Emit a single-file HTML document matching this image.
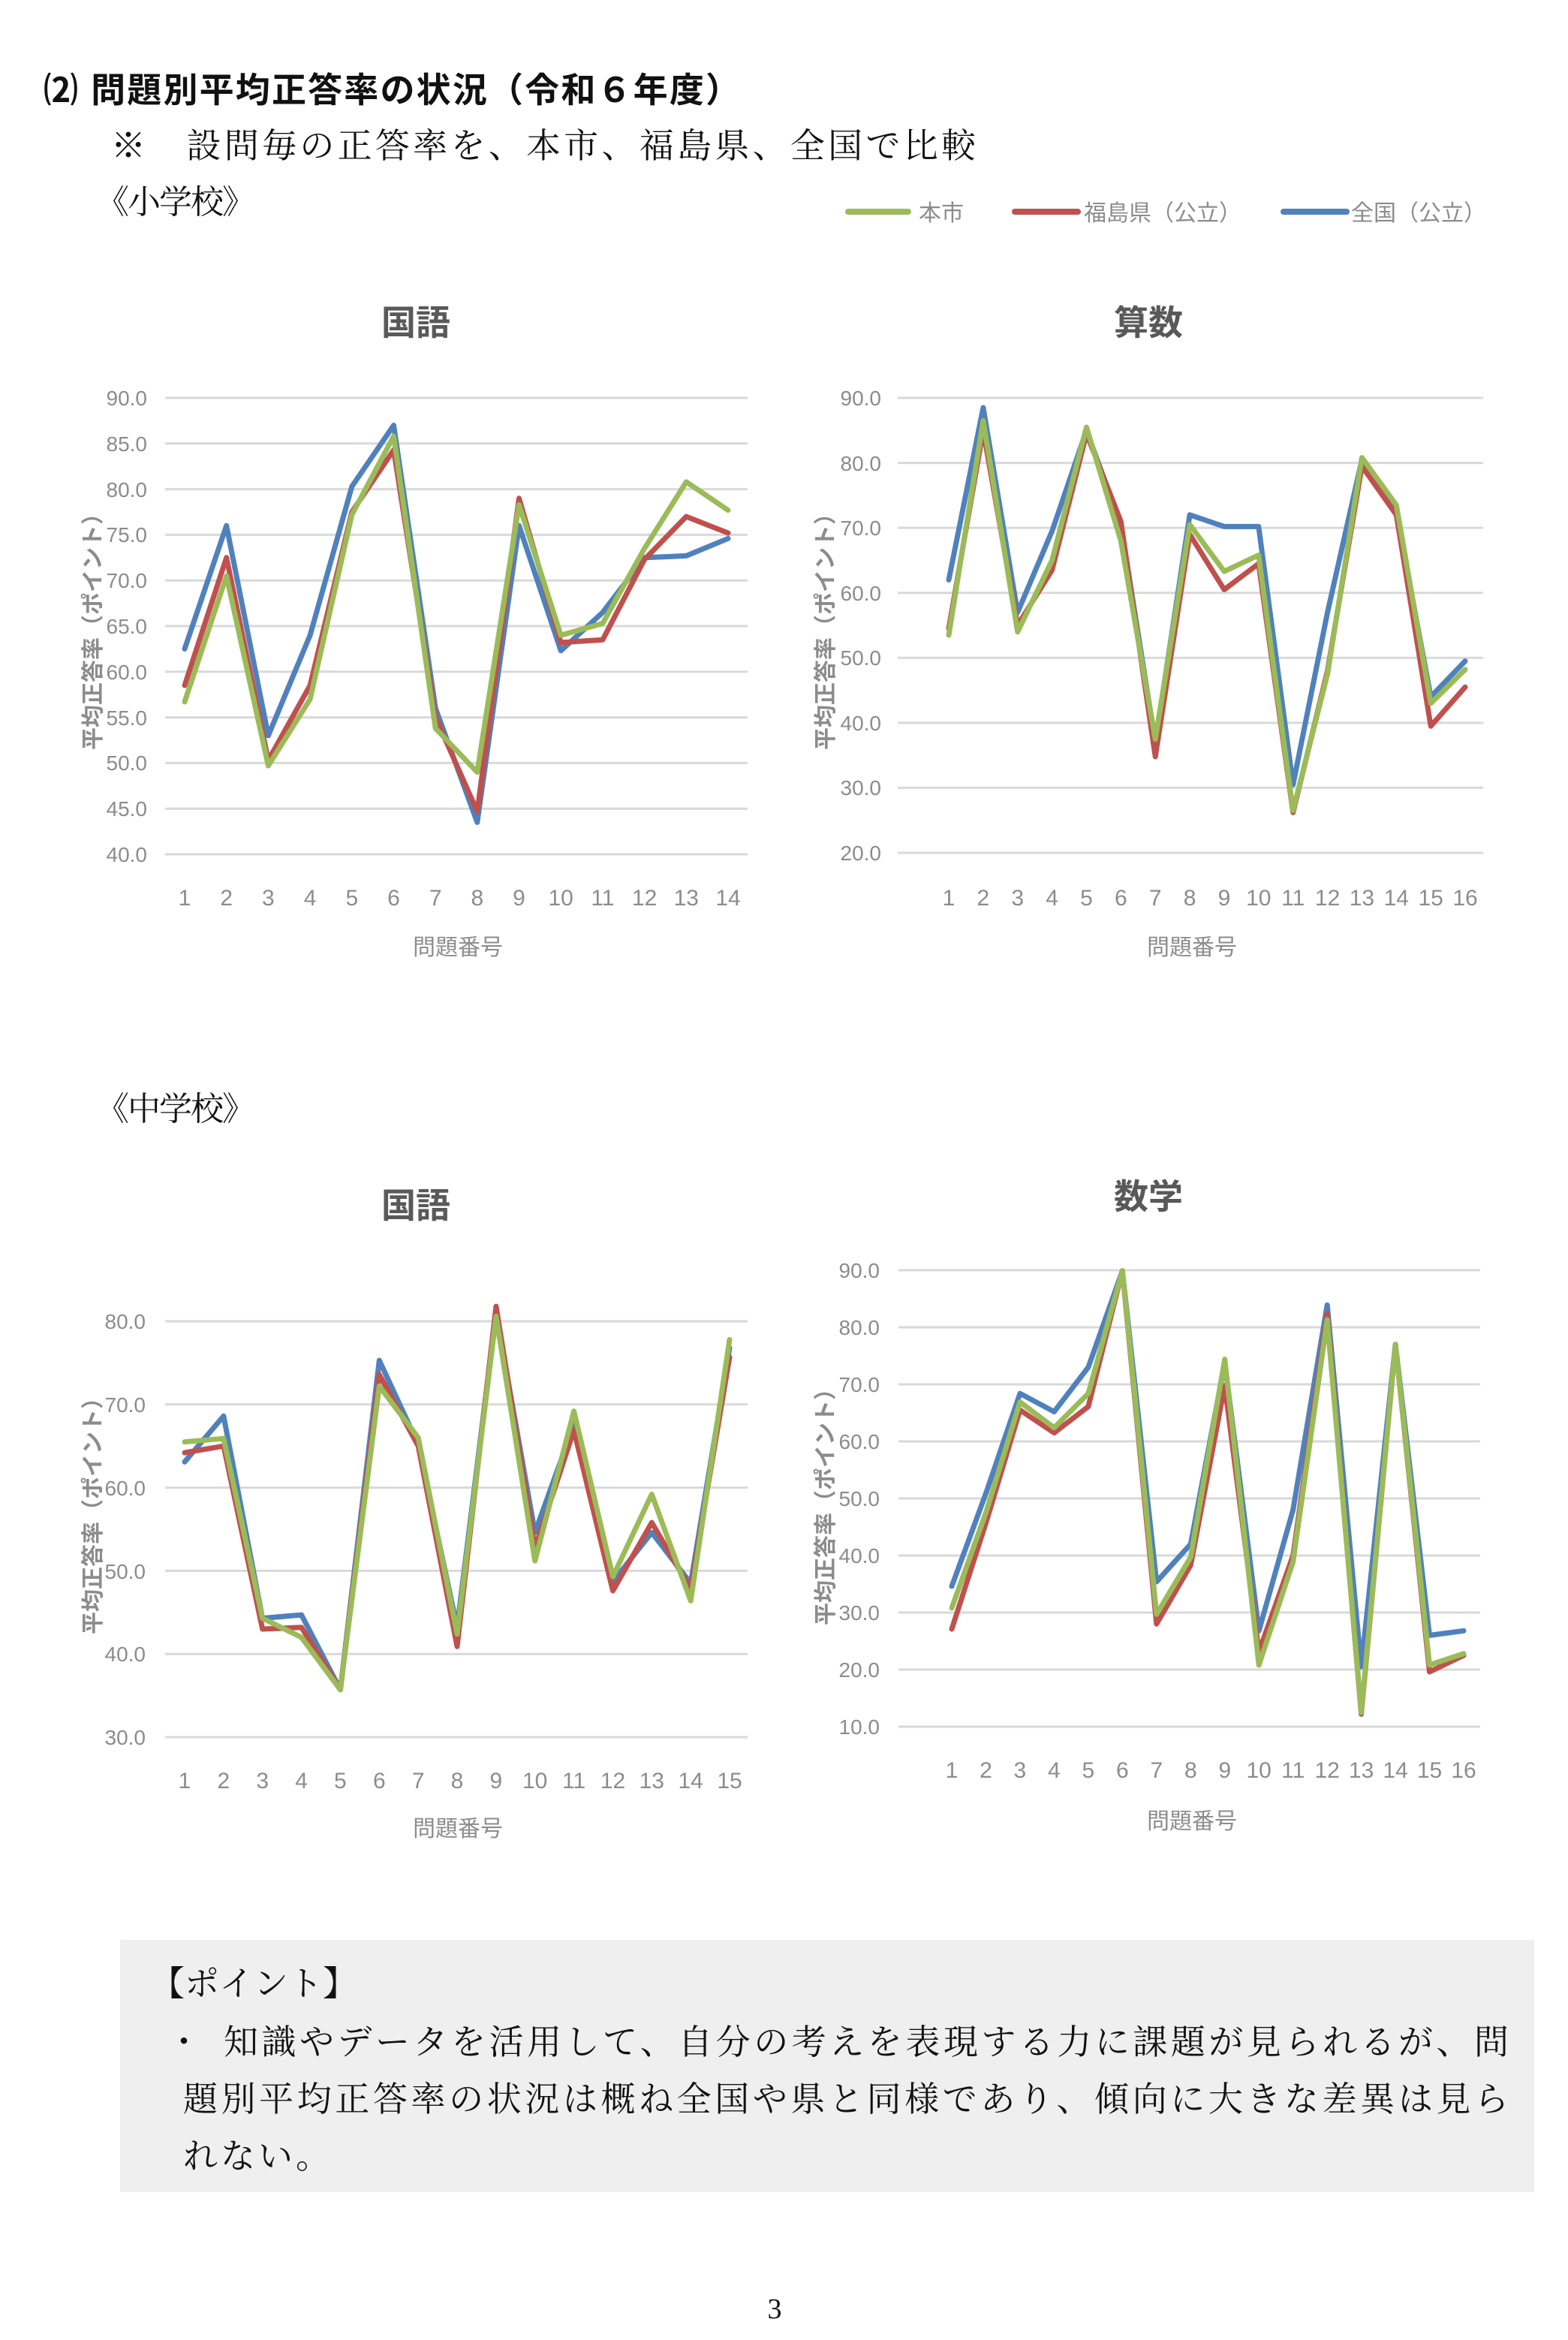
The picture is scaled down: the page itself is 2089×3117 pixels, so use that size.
<!DOCTYPE html>
<html><head><meta charset="utf-8"><style>
html,body{margin:0;padding:0;background:#fff;}
svg{display:block;}
.g{font-family:"Liberation Sans Narrow","Liberation Sans","Noto Sans CJK JP",sans-serif;fill:#8c8c8c;}
.tk{font-size:28px;text-anchor:end;}
.xl{font-size:30px;text-anchor:middle;}
.ti{font-family:"Liberation Sans","Noto Sans CJK JP",sans-serif;font-size:46px;font-weight:bold;fill:#595959;text-anchor:middle;}
.at{font-family:"Liberation Sans","Noto Sans CJK JP",sans-serif;font-size:30px;fill:#8c8c8c;text-anchor:middle;}
.yt{font-family:"Liberation Sans","Noto Sans CJK JP",sans-serif;font-size:30px;font-weight:bold;fill:#8c8c8c;text-anchor:middle;}
.gr line{stroke:#d9d9d9;stroke-width:3;}
.s{fill:none;stroke-width:7;stroke-linejoin:round;stroke-linecap:round;}
.b{stroke:#4f81bd}.r{stroke:#c0504d}.gn{stroke:#9bbb59}
.mc{font-family:"Liberation Serif","Noto Serif CJK SC",serif;fill:#111;}
.gh{font-family:"Liberation Sans","Noto Sans CJK JP",sans-serif;fill:#111;}
</style></head><body>
<svg width="2089" height="3117" viewBox="0 0 2089 3117" xmlns="http://www.w3.org/2000/svg">
<rect width="2089" height="3117" fill="#fff"/>
<text class="gh" x="58" y="136" font-size="46" font-weight="bold" textLength="928" lengthAdjust="spacing">⑵  問題別平均正答率の状況（令和６年度）</text>
<text class="mc" x="148" y="210" font-size="46" textLength="1152" lengthAdjust="spacing">※　設問毎の正答率を、本市、福島県、全国で比較</text>
<text class="mc" x="128" y="284" font-size="44" textLength="212" lengthAdjust="spacing">《小学校》</text>
<!-- legend -->
<line x1="1130" y1="282" x2="1210" y2="282" stroke="#9bbb59" stroke-width="8" stroke-linecap="round"/>
<text class="at" x="1224" y="294" font-size="34" style="text-anchor:start">本市</text>
<line x1="1352" y1="282" x2="1436" y2="282" stroke="#c0504d" stroke-width="8" stroke-linecap="round"/>
<text class="at" x="1444" y="294" font-size="34" style="text-anchor:start">福島県（公立）</text>
<line x1="1710" y1="282" x2="1794" y2="282" stroke="#4f81bd" stroke-width="8" stroke-linecap="round"/>
<text class="at" x="1800" y="294" font-size="34" style="text-anchor:start">全国（公立）</text>

<!-- Chart 1 -->
<text class="ti" x="554" y="446">国語</text>
<g class="gr"><line x1="220" x2="996" y1="530" y2="530"/><line x1="220" x2="996" y1="590.8" y2="590.8"/><line x1="220" x2="996" y1="651.6" y2="651.6"/><line x1="220" x2="996" y1="712.4" y2="712.4"/><line x1="220" x2="996" y1="773.2" y2="773.2"/><line x1="220" x2="996" y1="834" y2="834"/><line x1="220" x2="996" y1="894.8" y2="894.8"/><line x1="220" x2="996" y1="955.6" y2="955.6"/><line x1="220" x2="996" y1="1016.4" y2="1016.4"/><line x1="220" x2="996" y1="1077.2" y2="1077.2"/><line x1="220" x2="996" y1="1138" y2="1138"/></g>
<g class="g tk"><text x="196" y="540">90.0</text><text x="196" y="601">85.0</text><text x="196" y="662">80.0</text><text x="196" y="722">75.0</text><text x="196" y="783">70.0</text><text x="196" y="844">65.0</text><text x="196" y="905">60.0</text><text x="196" y="966">55.0</text><text x="196" y="1026">50.0</text><text x="196" y="1087">45.0</text><text x="196" y="1148">40.0</text></g>
<g class="g xl"><text x="246" y="1206">1</text><text x="301.7" y="1206">2</text><text x="357.4" y="1206">3</text><text x="413.1" y="1206">4</text><text x="468.8" y="1206">5</text><text x="524.5" y="1206">6</text><text x="580.2" y="1206">7</text><text x="635.8" y="1206">8</text><text x="691.5" y="1206">9</text><text x="747.2" y="1206">10</text><text x="802.9" y="1206">11</text><text x="858.6" y="1206">12</text><text x="914.3" y="1206">13</text><text x="970" y="1206">14</text></g>
<text class="at" x="610" y="1272">問題番号</text>
<text class="yt" transform="translate(134,834) rotate(-90)">平均正答率（ポイント）</text>
<polyline class="s b" points="246,864.4 301.7,700.2 357.4,979.9 413.1,846.2 468.8,648 524.5,566.5 580.2,943.4 635.8,1095.4 691.5,700.2 747.2,866.8 802.9,815.8 858.6,742.8 914.3,740.4 970,717.3"/>
<polyline class="s r" points="246,913 301.7,742.8 357.4,1012.8 413.1,913 468.8,682 524.5,599.3 580.2,955.6 635.8,1080.8 691.5,663.8 747.2,855.9 802.9,852.2 858.6,745.2 914.3,688.1 970,710"/>
<polyline class="s gn" points="246,934.9 301.7,767.1 357.4,1020 413.1,931.3 468.8,685.6 524.5,581.1 580.2,970.2 635.8,1028.6 691.5,672.3 747.2,846.2 802.9,830.4 858.6,730.6 914.3,641.9 970,679.6"/>

<!-- Chart 2 -->
<text class="ti" x="1530" y="446">算数</text>
<g class="gr"><line x1="1196" x2="1976" y1="530" y2="530"/><line x1="1196" x2="1976" y1="616.6" y2="616.6"/><line x1="1196" x2="1976" y1="703.1" y2="703.1"/><line x1="1196" x2="1976" y1="789.7" y2="789.7"/><line x1="1196" x2="1976" y1="876.3" y2="876.3"/><line x1="1196" x2="1976" y1="962.9" y2="962.9"/><line x1="1196" x2="1976" y1="1049.4" y2="1049.4"/><line x1="1196" x2="1976" y1="1136" y2="1136"/></g>
<g class="g tk"><text x="1174" y="540">90.0</text><text x="1174" y="627">80.0</text><text x="1174" y="713">70.0</text><text x="1174" y="800">60.0</text><text x="1174" y="886">50.0</text><text x="1174" y="973">40.0</text><text x="1174" y="1059">30.0</text><text x="1174" y="1146">20.0</text></g>
<g class="g xl"><text x="1264" y="1206">1</text><text x="1309.9" y="1206">2</text><text x="1355.7" y="1206">3</text><text x="1401.6" y="1206">4</text><text x="1447.5" y="1206">5</text><text x="1493.3" y="1206">6</text><text x="1539.2" y="1206">7</text><text x="1585.1" y="1206">8</text><text x="1631" y="1206">9</text><text x="1676.8" y="1206">10</text><text x="1722.7" y="1206">11</text><text x="1768.6" y="1206">12</text><text x="1814.4" y="1206">13</text><text x="1860.3" y="1206">14</text><text x="1906.2" y="1206">15</text><text x="1952" y="1206">16</text></g>
<text class="at" x="1588" y="1272">問題番号</text>
<text class="yt" transform="translate(1110,834) rotate(-90)">平均正答率（ポイント）</text>
<polyline class="s b" points="1264,772.4 1309.9,543 1355.7,815.7 1401.6,707.5 1447.5,573.3 1493.3,698.8 1539.2,988.8 1585.1,685.8 1631,701.4 1676.8,701.4 1722.7,1045.1 1768.6,815.7 1814.4,612.2 1860.3,681.5 1906.2,928.2 1952,880.6"/>
<polyline class="s r" points="1264,837.3 1309.9,573.3 1355.7,833 1401.6,759.4 1447.5,577.6 1493.3,694.5 1539.2,1007.9 1585.1,711.8 1631,785.4 1676.8,750.8 1722.7,1082.3 1768.6,893.6 1814.4,620.9 1860.3,685.8 1906.2,967.2 1952,915.2"/>
<polyline class="s gn" points="1264,846 1309.9,560.3 1355.7,841.7 1401.6,746.4 1447.5,569 1493.3,720.5 1539.2,984.5 1585.1,698.8 1631,761.1 1676.8,739.5 1722.7,1079.7 1768.6,897.9 1814.4,609.6 1860.3,672.8 1906.2,936.9 1952,891.8"/>

<text class="mc" x="128" y="1492" font-size="44" textLength="212" lengthAdjust="spacing">《中学校》</text>

<!-- Chart 3 -->
<text class="ti" x="554" y="1622">国語</text>
<g class="gr"><line x1="220" x2="996" y1="1760" y2="1760"/><line x1="220" x2="996" y1="1870.8" y2="1870.8"/><line x1="220" x2="996" y1="1981.6" y2="1981.6"/><line x1="220" x2="996" y1="2092.4" y2="2092.4"/><line x1="220" x2="996" y1="2203.2" y2="2203.2"/><line x1="220" x2="996" y1="2314" y2="2314"/></g>
<g class="g tk"><text x="194" y="1770">80.0</text><text x="194" y="1881">70.0</text><text x="194" y="1992">60.0</text><text x="194" y="2103">50.0</text><text x="194" y="2213">40.0</text><text x="194" y="2324">30.0</text></g>
<g class="g xl"><text x="246" y="2382">1</text><text x="297.9" y="2382">2</text><text x="349.7" y="2382">3</text><text x="401.6" y="2382">4</text><text x="453.4" y="2382">5</text><text x="505.3" y="2382">6</text><text x="557.2" y="2382">7</text><text x="609" y="2382">8</text><text x="660.9" y="2382">9</text><text x="712.7" y="2382">10</text><text x="764.6" y="2382">11</text><text x="816.5" y="2382">12</text><text x="868.3" y="2382">13</text><text x="920.2" y="2382">14</text><text x="972" y="2382">15</text></g>
<text class="at" x="610" y="2446">問題番号</text>
<text class="yt" transform="translate(134,2012) rotate(-90)">平均正答率（ポイント）</text>
<polyline class="s b" points="246,1947.3 297.9,1886.3 349.7,2155.6 401.6,2151.1 453.4,2250.8 505.3,1812.1 557.2,1924 609,2167.7 660.9,1748.9 712.7,2041.4 764.6,1897.4 816.5,2106.8 868.3,2041.4 920.2,2109 972,1795.5"/>
<polyline class="s r" points="246,1935.1 297.9,1926.2 349.7,2170 401.6,2167.7 453.4,2250.8 505.3,1830.9 557.2,1926.2 609,2193.2 660.9,1740.1 712.7,2062.5 764.6,1905.1 816.5,2119 868.3,2028.1 920.2,2116.8 972,1807.6"/>
<polyline class="s gn" points="246,1920.7 297.9,1916.2 349.7,2155.6 401.6,2181 453.4,2250.8 505.3,1846.4 557.2,1915.1 609,2176.6 660.9,1753.4 712.7,2079.1 764.6,1879.7 816.5,2100.2 868.3,1990.5 920.2,2132.3 972,1784.4"/>

<!-- Chart 4 -->
<text class="ti" x="1530" y="1610">数学</text>
<g class="gr"><line x1="1197" x2="1972" y1="1692" y2="1692"/><line x1="1197" x2="1972" y1="1768" y2="1768"/><line x1="1197" x2="1972" y1="1844" y2="1844"/><line x1="1197" x2="1972" y1="1920" y2="1920"/><line x1="1197" x2="1972" y1="1996" y2="1996"/><line x1="1197" x2="1972" y1="2072" y2="2072"/><line x1="1197" x2="1972" y1="2148" y2="2148"/><line x1="1197" x2="1972" y1="2224" y2="2224"/><line x1="1197" x2="1972" y1="2300" y2="2300"/></g>
<g class="g tk"><text x="1172" y="1702">90.0</text><text x="1172" y="1778">80.0</text><text x="1172" y="1854">70.0</text><text x="1172" y="1930">60.0</text><text x="1172" y="2006">50.0</text><text x="1172" y="2082">40.0</text><text x="1172" y="2158">30.0</text><text x="1172" y="2234">20.0</text><text x="1172" y="2310">10.0</text></g>
<g class="g xl"><text x="1268" y="2368">1</text><text x="1313.5" y="2368">2</text><text x="1358.9" y="2368">3</text><text x="1404.4" y="2368">4</text><text x="1449.9" y="2368">5</text><text x="1495.3" y="2368">6</text><text x="1540.8" y="2368">7</text><text x="1586.3" y="2368">8</text><text x="1631.7" y="2368">9</text><text x="1677.2" y="2368">10</text><text x="1722.7" y="2368">11</text><text x="1768.2" y="2368">12</text><text x="1813.6" y="2368">13</text><text x="1859.1" y="2368">14</text><text x="1904.5" y="2368">15</text><text x="1950" y="2368">16</text></g>
<text class="at" x="1588" y="2436">問題番号</text>
<text class="yt" transform="translate(1110,2000) rotate(-90)">平均正答率（ポイント）</text>
<polyline class="s b" points="1268,2113 1313.5,1989.2 1358.9,1856.2 1404.4,1880.5 1449.9,1821.2 1495.3,1692.8 1540.8,2107 1586.3,2056.8 1631.7,1815.1 1677.2,2172.3 1722.7,2011.2 1768.2,1738.4 1813.6,2220.2 1859.1,1790.8 1904.5,2178.4 1950,2172.3"/>
<polyline class="s r" points="1268,2170 1313.5,2028.7 1358.9,1878.2 1404.4,1908.6 1449.9,1873.6 1495.3,1692.8 1540.8,2163.2 1586.3,2084.9 1631.7,1845.5 1677.2,2200.4 1722.7,2072 1768.2,1749.8 1813.6,2283.3 1859.1,1790.8 1904.5,2227 1950,2205"/>
<polyline class="s gn" points="1268,2141.9 1313.5,2015 1358.9,1867.6 1404.4,1901.8 1449.9,1856.2 1495.3,1692.8 1540.8,2150.3 1586.3,2074.3 1631.7,1810.6 1677.2,2217.9 1722.7,2080.4 1768.2,1758.1 1813.6,2281 1859.1,1790.8 1904.5,2217.9 1950,2202.7"/>

<!-- point box -->
<rect x="160" y="2584" width="1884" height="336" fill="#efefef"/>
<text class="mc" x="200" y="2658" font-size="46">【ポイント】</text>
<text class="mc" x="222" y="2736" font-size="46">・</text>
<text class="mc" x="298" y="2736" font-size="46" textLength="1712" lengthAdjust="spacing">知識やデータを活用して、自分の考えを表現する力に課題が見られるが、問</text>
<text class="mc" x="244" y="2812" font-size="46" textLength="1766" lengthAdjust="spacing">題別平均正答率の状況は概ね全国や県と同様であり、傾向に大きな差異は見ら</text>
<text class="mc" x="244" y="2888" font-size="46" textLength="196" lengthAdjust="spacing">れない。</text>

<text class="mc" x="1032" y="3088" font-size="38" text-anchor="middle">3</text>
</svg>
</body></html>
